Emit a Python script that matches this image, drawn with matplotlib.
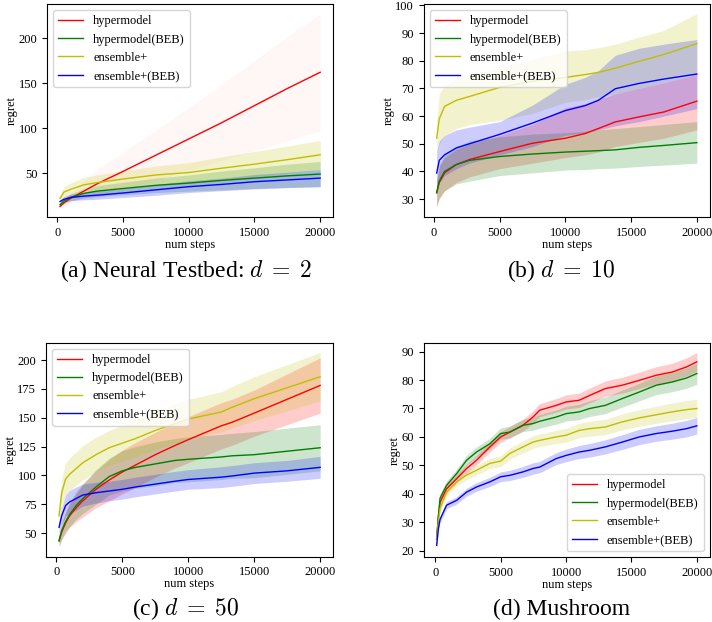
import numpy as np
import matplotlib.pyplot as plt

plt.rcParams['font.family'] = ['Liberation Serif', 'DejaVu Serif']
plt.rcParams['mathtext.fontset'] = 'cm'

labels = ['hypermodel', 'hypermodel(BEB)', 'ensemble+', 'ensemble+(BEB)']
colors = ['r', 'g', 'y', 'b']

# (a) Neural Testbed d=2 : mean and half width of the band
a_steps = [200, 500, 1000, 2000, 3000, 5000, 7500, 10000, 12500, 15000, 17500, 20000]
a_hyper = [13, 17, 22, 30, 38, 52, 70, 88, 106, 125, 144, 162]
a_hyper_err = [1, 3, 6, 11, 16, 21, 28, 35, 42, 50, 58, 65]
a_hyper_beb = [15, 19, 23, 27.5, 30, 33, 36.5, 39, 42, 44.5, 47, 49]
a_hyper_beb_err = [2, 3, 4, 5, 6, 7, 8, 9, 10.5, 11.5, 13, 14]
a_ens = [22, 29, 32, 37, 39.5, 43.5, 48, 50.7, 55.5, 60, 65, 70.4]
a_ens_err = [4, 6, 7, 8, 8.5, 9, 10, 11, 12.5, 14, 15, 16]
a_ens_beb = [18.5, 21, 23, 24.5, 25.5, 28, 31.5, 35, 37.5, 40.5, 42.5, 44.5]
a_ens_beb_err = [2, 3, 3.5, 4, 4.5, 5, 6, 6.5, 7, 8, 8.5, 9.5]

# (b) d=10 : mean, lower and upper edge of the band
b_steps = [200, 400, 800, 1700, 2700, 5000, 7500, 10000, 11500, 12500, 13800, 15600, 17500, 20000]
b_hyper = [32.3, 36, 39.5, 42.5, 44.3, 47.2, 50.2, 52, 53.7, 55.5, 57.9, 59.7, 61.5, 65.4]
b_hyper_lo = [27, 30, 33, 36, 38, 41, 43, 45, 46, 47, 49, 50.5, 52, 55]
b_hyper_hi = [37, 42, 45, 48, 50, 53, 57, 63, 64.5, 66, 68, 70, 72, 75]
b_hyper_beb = [32.3, 36.5, 40, 42.5, 44, 45.4, 46.3, 47, 47.3, 47.5, 47.8, 48.7, 49.4, 50.4]
b_hyper_beb_lo = [27.5, 30.5, 33, 35.5, 36.5, 38.5, 39.5, 40.5, 40.7, 41, 41.2, 41.8, 42.3, 43]
b_hyper_beb_hi = [36.5, 42, 46, 49, 51, 52.5, 53.5, 54, 54.5, 55, 55.5, 56.2, 57, 58]
b_ens = [52, 59, 63.5, 65.7, 67.1, 70.4, 72.6, 74, 75, 75.8, 77.3, 79.8, 82.3, 86.2]
b_ens_lo = [46.5, 50, 53, 55.5, 57, 58.5, 61, 65, 66, 67, 68, 70, 72, 75]
b_ens_hi = [58, 68, 71, 73.4, 75, 77.5, 80.5, 83.5, 84, 84.7, 86, 88.5, 91, 97]
b_ens_beb = [39.4, 44, 46, 48.5, 50, 53.4, 57.5, 62, 63.8, 65.7, 69.9, 71.8, 73.4, 75.2]
b_ens_beb_lo = [33, 36, 38.5, 41, 43, 46, 49, 53, 54, 55, 56.5, 58, 60, 62.7]
b_ens_beb_hi = [47, 51, 53, 55, 56, 58, 64, 71.5, 74, 76.4, 82, 84.5, 86, 87.7]

# (c) d=50 : mean and half width
c_steps = [200, 400, 700, 1000, 1500, 2000, 3000, 4000, 5000, 6000, 7500, 9000, 10000,
           12500, 13300, 15000, 17500, 20000]
c_hyper = [44, 51, 59, 65, 72, 78, 88, 96, 103, 109, 118, 126, 131, 143, 146, 154, 166, 178]
c_hyper_err = [5, 7, 9, 10, 12, 14, 16, 18, 19, 19.5, 19.5, 19.5, 20, 20, 20, 20, 22, 24]
c_hyper_beb = [43, 52, 60, 66, 74, 80, 90, 99, 104, 107, 110, 113, 114, 116, 117, 118, 121, 124]
c_hyper_beb_err = [5, 7, 8.5, 10.5, 12, 13, 15, 16, 17.5, 18, 19, 19, 19.5, 19.5, 19.5, 20, 20, 20]
c_ens = [65, 85, 97, 101, 106, 111, 118, 124, 128, 132, 139, 145, 148.9, 155, 159, 166.5, 176, 185.6]
c_ens_err = [10, 12, 14, 14, 14.5, 15, 15, 15, 15.5, 16, 16.5, 17, 17, 17.5, 18, 19, 20, 21]
c_ens_beb = [55, 65, 74, 77, 80, 83, 85, 86.5, 88, 90, 92.5, 95, 96.5, 98.5, 99.5, 102, 104, 107]
c_ens_beb_err = [6, 7, 9, 10, 10, 9.5, 9, 8.5, 8.5, 8.5, 8.5, 8.5, 8.5, 9, 9, 9, 9, 9.5]

# (d) Mushroom : mean and half width
d_steps = [100, 230, 360, 860, 1630, 2390, 3150, 4170, 5000, 5700, 6700, 7470, 7980, 9250,
           10000, 11000, 11800, 13000, 14300, 15600, 16900, 18100, 19200, 20000]
d_hyper = [24, 32, 37, 41.8, 45.3, 48.9, 51.8, 56.5, 60, 61.7, 64.1, 67, 69.4, 71.1,
           72.3, 72.9, 74.6, 77, 78.2, 79.9, 81.7, 82.8, 84.6, 86.4]
d_hyper_err = [1, 1.2, 1.4, 1.5, 1.5, 1.6, 1.7, 1.8, 1.9, 2, 2, 2.2, 2.3, 2.4,
               2.5, 2.5, 2.6, 2.7, 2.8, 2.9, 3, 3.1, 3.2, 3.3]
d_hyper_beb = [24, 32, 38.5, 43, 47.1, 51.8, 54.7, 57.6, 61.2, 61.7, 64.1, 64.7, 65.5, 67,
               68.2, 68.8, 70, 71.1, 73.5, 75.8, 78.2, 79.3, 80.7, 82.3]
d_hyper_beb_err = [1, 1.2, 1.4, 1.5, 1.6, 1.7, 1.8, 1.9, 2, 2.1, 2.2, 2.3, 2.4, 2.5,
                   2.6, 2.7, 2.8, 2.9, 3, 3.1, 3.3, 3.4, 3.6, 3.8]
d_ens = [24, 30, 34.8, 40.6, 44.2, 46.6, 48.3, 50.7, 51.5, 54.2, 56.5, 58.2, 58.8, 60,
         60.6, 62.3, 62.9, 63.5, 65.3, 66.7, 67.8, 68.8, 69.6, 70]
d_ens_err = [1, 1.2, 1.3, 1.4, 1.5, 1.6, 1.7, 1.8, 1.9, 2, 2.1, 2.2, 2.2, 2.3,
             2.4, 2.5, 2.6, 2.7, 2.8, 2.9, 3, 3.1, 3.2, 3.2]
d_ens_beb = [21.9, 27.7, 31, 36, 37.7, 40.6, 42.4, 44.2, 46, 46.5, 47.7, 48.9, 49.4, 52.4,
             53.5, 54.7, 55.3, 56.5, 58.2, 60, 61.2, 62, 62.9, 63.9]
d_ens_beb_err = [0.8, 1, 1.1, 1.2, 1.3, 1.4, 1.5, 1.6, 1.7, 1.8, 1.9, 2, 2, 2.1,
                 2.2, 2.3, 2.4, 2.5, 2.6, 2.7, 2.7, 2.8, 2.9, 2.9]


def sym(mean, err):
    m = np.array(mean, dtype=float)
    e = np.array(err, dtype=float)
    return m, m - e, m + e


def panel(ax, steps, series, alphas, loc):
    for (m, lo, hi), lab, c, al in zip(series, labels, colors, alphas):
        ax.plot(steps, m, color=c, lw=1, label=lab)
        ax.fill_between(steps, lo, hi, color=c, alpha=al, lw=0)
    ax.set_xlabel('num steps', fontsize=9, labelpad=0)
    ax.set_ylabel('regret', fontsize=9, labelpad=0.5)
    ax.tick_params(labelsize=9)
    ax.set_xticks([0, 5000, 10000, 15000, 20000])
    ax.legend(loc=loc, fontsize=9)


fig = plt.figure(figsize=(7.12, 6.22), dpi=100)

ax_a = fig.add_axes([0.066, 0.651, 0.402, 0.3425])
panel(ax_a, a_steps,
      [sym(a_hyper, a_hyper_err), sym(a_hyper_beb, a_hyper_beb_err),
       sym(a_ens, a_ens_err), sym(a_ens_beb, a_ens_beb_err)],
      [0.035, 0.2, 0.2, 0.2], 'upper left')
ax_a.set_yticks([50, 100, 150, 200])

ax_b = fig.add_axes([0.595, 0.651, 0.402, 0.3425])
panel(ax_b, b_steps,
      [(b_hyper, b_hyper_lo, b_hyper_hi), (b_hyper_beb, b_hyper_beb_lo, b_hyper_beb_hi),
       (b_ens, b_ens_lo, b_ens_hi), (b_ens_beb, b_ens_beb_lo, b_ens_beb_hi)],
      [0.2, 0.2, 0.2, 0.2], 'upper left')

ax_c = fig.add_axes([0.0646, 0.105, 0.4034, 0.344])
panel(ax_c, c_steps,
      [sym(c_hyper, c_hyper_err), sym(c_hyper_beb, c_hyper_beb_err),
       sym(c_ens, c_ens_err), sym(c_ens_beb, c_ens_beb_err)],
      [0.2, 0.2, 0.2, 0.2], 'upper left')

ax_d = fig.add_axes([0.595, 0.104, 0.402, 0.345])
panel(ax_d, d_steps,
      [sym(d_hyper, d_hyper_err), sym(d_hyper_beb, d_hyper_beb_err),
       sym(d_ens, d_ens_err), sym(d_ens_beb, d_ens_beb_err)],
      [0.2, 0.2, 0.2, 0.2], 'lower right')

cap = dict(fontsize=17, ha='center', va='baseline')
fig.text(186 / 712, 1 - 276.7 / 622, r'(a) Neural Testbed: $d\;=\;2$', **cap)
fig.text(561.5 / 712, 1 - 276.7 / 622, r'(b) $d\;=\;10$', **cap)
fig.text(186 / 712, 1 - 615 / 622, r'(c) $d\;=\;50$', **cap)
fig.text(561.5 / 712, 1 - 615 / 622, r'(d) Mushroom', **cap)

fig.savefig('out.png', dpi=100)
